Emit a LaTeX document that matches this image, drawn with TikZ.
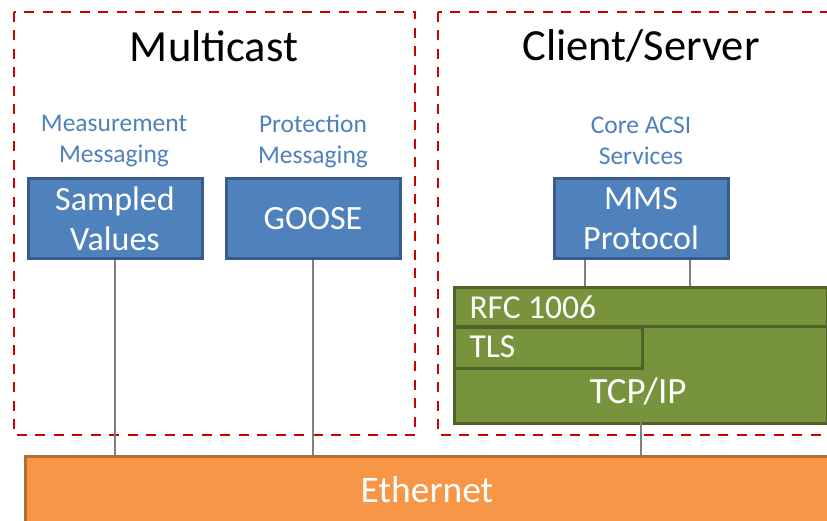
\documentclass[tikz,border=0pt]{standalone}
\usepackage{fontspec}
\setmainfont{Carlito}
\definecolor{bluefill}{RGB}{79,129,189}
\definecolor{blueedge}{RGB}{56,93,138}
\definecolor{bluetext}{RGB}{79,129,189}
\definecolor{greenfill}{RGB}{119,147,60}
\definecolor{greenedge}{RGB}{79,98,40}
\definecolor{orangefill}{RGB}{247,150,70}
\definecolor{orangeedge}{RGB}{182,109,49}
\definecolor{dashred}{RGB}{204,0,0}
\definecolor{linegray}{RGB}{128,128,128}
\begin{document}
\begin{tikzpicture}[x=1pt,y=1pt,
  groupbox/.style={draw=dashred, line width=2.6pt, dash pattern=on 10pt off 8.5pt},
  title/.style={font=\fontsize{44.5}{52}\selectfont, text=black},
  sublabel/.style={font=\fontsize{25.5}{31}\selectfont, text=bluetext, align=center},
  protobox/.style={draw=blueedge, fill=bluefill, line width=3pt, text=white,
    minimum width=174pt, minimum height=80pt, align=center, inner sep=0pt,
    font=\fontsize{34}{40}\selectfont},
  greenbox/.style={draw=greenedge, fill=greenfill, line width=3pt, text=white, inner sep=0pt},
  conn/.style={draw=linegray, line width=2.8pt}
]
\clip (0,0) rectangle (827,-521);
\fill[white] (0,0) rectangle (827,-521);

% group boxes
\draw[groupbox] (14,-12) rectangle (415,-435);
\draw[groupbox] (438,-12) rectangle (840,-435);

\node[title] (mc) at (214,-46) {Multicast};
\node[title] (cs) at (641,-46) {Client/Server};

\node[sublabel] (mm) at (114,-141) {Measurement\\Messaging};
\node[sublabel] (pm) at (313,-141) {Protection\\Messaging};
\node[sublabel] (ca) at (641,-141) {Core ACSI\\Services};

\node[protobox] (sv) at (115,-219) {Sampled\\Values};
\node[protobox] (goose) at (313,-219) {GOOSE};
\node[protobox] (mms) at (641,-219) {MMS\\Protocol};

% ethernet
\node[draw=orangeedge, fill=orangefill, line width=3pt, minimum width=820pt, minimum height=80pt,
  anchor=north west, inner sep=0pt] (eth) at (24,-455) {};
\node[text=white, font=\fontsize{37.5}{44}\selectfont] (ethlbl) at (427,-490) {Ethernet};

% green stack
\node[greenbox, minimum width=373pt, minimum height=136pt, anchor=north west] (stack) at (453,-286) {};
\draw[draw=greenedge, line width=3pt] (453,-326) -- (826,-326);
\node[greenbox, minimum width=188pt, minimum height=41pt, anchor=north west] (tls) at (453,-326) {};
\node[text=white, font=\fontsize{33.5}{40}\selectfont, anchor=west] (rfc) at (466,-307) {RFC 1006};
\node[text=white, font=\fontsize{33.5}{40}\selectfont, anchor=west] (tlslbl) at (466,-347) {TLS};
\node[text=white, font=\fontsize{37}{44}\selectfont] (tcp) at (638,-391) {TCP/IP};
\coordinate (rfctopl) at (585,-286);
\coordinate (rfctopr) at (690,-286);
\coordinate (tcpbot) at (641,-422);

% connectors
\draw[conn] (sv.south) -- (sv.south |- eth.north);
\draw[conn] (goose.south) -- (goose.south |- eth.north);
\draw[conn] (mms.south -| rfctopl) -- (rfctopl);
\draw[conn] (mms.south -| rfctopr) -- (rfctopr);
\draw[conn] (tcpbot) -- (tcpbot |- eth.north);
\end{tikzpicture}
\end{document}
